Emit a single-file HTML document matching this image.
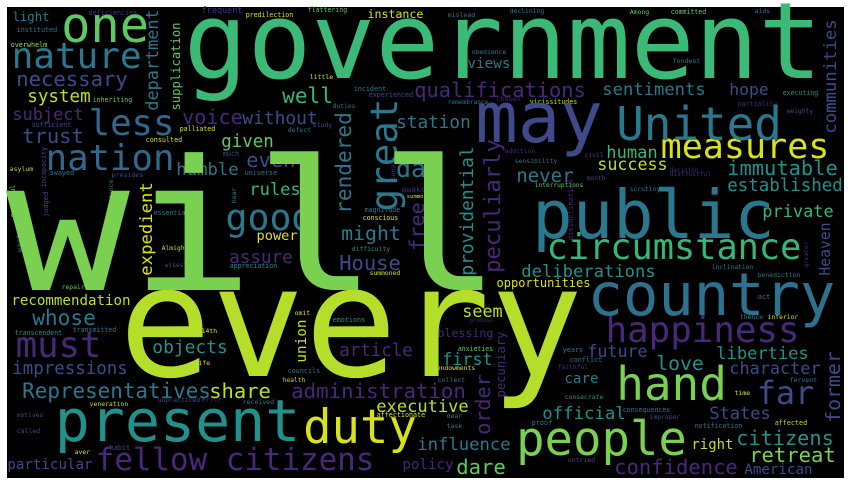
<!DOCTYPE html>
<html>
<head>
<meta charset="utf-8">
<style>
html,body{margin:0;padding:0;background:#fff;}
svg{display:block;}
text{font-family:"DejaVu Sans Mono","Liberation Mono",monospace;}
</style>
</head>
<body>
<svg id="cloud" width="851" height="485" viewBox="0 0 851 485" xmlns="http://www.w3.org/2000/svg">
<rect x="7" y="7" width="837" height="471" fill="#000"/>
</svg>
<script>
// Word cloud data: words, colors, orientation (h = horizontal, v = vertical)
const words = ["will","every","government","public","country","present","may","United","people","duty","hand","far","measures","circumstance","happiness","fellow citizens","nation","less","nature","one","great","good","necessary","Representatives","administration","must","qualifications","sentiments","hope","immutable","established","private","citizens","retreat","confidence","American","influence","official","States","character","liberties","love","future","first","blessing","seem","deliberations","opportunities","article","objects","whose","recommendation","impressions","share","executive","particular","House","assure","day","station","event","without","voice","well","given","humble","rules","might","power","subject","trust","system","light","instance","views","human","success","never","dare","right","care","policy","communities","department","supplication","expedient","rendered","providential","peculiarly","pecuniary","order","former","Heaven","union","free"];
const colors = ["#7ad151","#b5de2b","#3aba76","#2a788e","#2c728e","#21918c","#3e4a89","#2a788e","#7ad151","#d8e219","#7ad151","#3e4a89","#d8e219","#35b779","#482878","#482878","#31688e","#31688e","#2a788e","#5ec962","#2a788e","#2a788e","#3e4a89","#2a788e","#482878","#482878","#482878","#2a788e","#3e4a89","#21918c","#21918c","#35b779","#21918c","#7ad151","#482878","#3e4a89","#2a788e","#21918c","#3e4a89","#3e4a89","#21918c","#21918c","#3e4a89","#21918c","#482878","#bddf26","#21918c","#d8e219","#482878","#21918c","#2a788e","#bddf26","#3e4a89","#bddf26","#bddf26","#3e4a89","#3e4a89","#482878","#2a788e","#2a788e","#3e4a89","#3e4a89","#482878","#35b779","#5ec962","#2a788e","#35b779","#2a788e","#d8e219","#482878","#3e4a89","#bddf26","#2a788e","#d8e219","#2a788e","#35b779","#bddf26","#2a788e","#5ec962","#bddf26","#2a788e","#482878","#3e4a89","#2a788e","#5ec962","#d8e219","#2a788e","#21918c","#482878","#482878","#482878","#3e4a89","#3e4a89","#bddf26","#482878"];
const orient = ["h","h","h","h","h","h","h","h","h","h","h","h","h","h","h","h","h","h","h","h","v","h","h","h","h","h","h","h","h","h","h","h","h","h","h","h","h","h","h","h","h","h","h","h","h","h","h","h","h","h","h","h","h","h","h","h","h","h","h","h","h","h","h","h","h","h","h","h","h","h","h","h","h","h","h","h","h","h","h","h","h","h","v","v","v","v","v","v","v","v","v","v","v","v","v"];
// glyph height scale per main word (1 = default)
const heightScale = [0.88,1,1,1,1,1,1,1,1,1,1,1,1,1,1,1,1,1,1,1,1,1,1,1,1,1,1,1,1,1,1,1,1,1,1,1,1,1,1,1,1,1,1,1,1,1,1,1,1,1,1,1,1,1,1,1,1,1,1,1,1,1,1,1,1,1,1,1,1,1,1,1,1,1,1,1,1,1,1,1,1,1,1,1,1,1,1,1,1,1,1,1,1,1,1];
// layout boxes of visible ink (horizontal: x0,x1,baseline ; vertical: baselineX,yTop,yBottom)
const layout = [[14,494,290],[125,577,376],[188,818,78],[535,772,238],[590,833,315],[57,298,441],[478,600,142],[618,780,140],[518,685,455],[305,415,443],[618,725,400],[758,813,404],[662,828,158],[548,800,259],[607,798,342],[97,373,470],[47,173,170],[90,173,135],[13,140,68],[63,147,42],[397,100,210],[227,312,230],[17,127,86],[23,210,398],[292,465,398],[17,100,357],[415,585,97],[603,705,95],[730,768,95],[728,837,175],[728,842,191],[763,833,217],[737,833,445],[750,835,462],[615,737,474],[745,812,474],[418,510,450],[543,625,419],[710,770,419],[730,820,374],[717,808,359],[657,703,370],[588,647,357],[443,492,365],[438,493,337],[463,502,317],[522,655,277],[497,590,287],[340,412,356],[153,227,353],[33,95,325],[12,130,305],[13,127,374],[210,270,398],[377,468,412],[8,92,469],[340,400,270],[230,292,263],[397,440,177],[397,470,128],[247,307,167],[243,317,124],[183,242,124],[283,332,103],[222,273,147],[177,238,175],[250,300,195],[342,400,240],[257,297,240],[13,83,120],[23,83,143],[28,90,102],[13,49,21],[368,423,18],[468,510,68],[607,657,158],[598,667,170],[517,573,182],[457,505,474],[692,733,449],[565,598,383],[403,453,469],[836,20,133],[158,10,110],[180,23,110],[152,183,275],[351,113,213],[473,147,275],[500,140,272],[505,332,397],[490,375,434],[840,352,422],[830,223,275],[306,320,362],[424,203,250]];
// small words
const smallWords = ["deficiencies","instituted","overwhelm","palliated","consulted","inheriting","sufficient","asylum","swayed","presides","essential","universe","much","study","defect","duties","incident","experienced","little","frequent","predilection","flattering","magnitude","conscious","awaken","summons","mislead","declining","Among","committed","aids","obedience","fondest","executing","remembrance","chosen","vicissitudes","partiality","weighty","addition","sensibility","civil","decision","distrustful","month","interruptions","scrutiny","inclination","benediction","act","thence","inferior","gradual","anxieties","endowments","collect","years","conflict","faithful","consecrate","time","fervent","consequences","dear","task","improper","proof","notification","affected","untried","Almighty","difficulty","wisest","appreciation","summoned","repaired","transcendent","transmitted","omit","emotions","14th","life","councils","health","veneration","unpracticed","error","received","affectionate","motives","called","habit","aver"];
const smallColors = ["#46327e","#2a788e","#a0da39","#d8e219","#d8e219","#5ec962","#3e4a89","#bddf26","#2a788e","#3e4a89","#2a788e","#2a788e","#3e4a89","#3e4a89","#2a788e","#2a788e","#2a788e","#3e4a89","#d8e219","#46327e","#d8e219","#5ec962","#2a788e","#d8e219","#482878","#d8e219","#2a788e","#2a788e","#5ec962","#5ec962","#2a788e","#2a788e","#2a788e","#21918c","#2a788e","#482878","#bddf26","#482878","#3e4a89","#482878","#2a788e","#3e4a89","#482878","#482878","#3e4a89","#5ec962","#2a788e","#2a788e","#2a788e","#2a788e","#2a788e","#d8e219","#482878","#5ec962","#d8e219","#2a788e","#2a788e","#2a788e","#482878","#21918c","#d8e219","#2a788e","#2a788e","#2a788e","#2a788e","#3e4a89","#2a788e","#2a788e","#bddf26","#3e4a89","#bddf26","#21918c","#3e4a89","#21918c","#d8e219","#5ec962","#21918c","#2a788e","#d8e219","#21918c","#d8e219","#d8e219","#2a788e","#bddf26","#bddf26","#3e4a89","#482878","#2a788e","#d8e219","#3e4a89","#3e4a89","#3e4a89","#d8e219"];
const smallLayout = [[89,137,15],[17,57,32],[11,47,47],[180,215,131],[146,182,142],[93,132,102],[32,71,127],[10,33,171],[50,74,175],[112,143,177],[154,189,215],[245,277,175],[223,239,156],[313,332,127],[288,311,132],[333,355,108],[354,386,91],[369,413,97],[310,333,79],[202,242,13],[246,293,17],[308,347,12],[365,400,212],[363,398,220],[402,430,192],[407,430,198],[448,475,17],[510,544,13],[630,649,14],[671,706,14],[755,770,13],[472,506,54],[673,700,63],[783,818,95],[448,488,104],[497,520,101],[530,577,104],[738,777,106],[787,813,113],[505,535,153],[515,557,163],[585,603,157],[670,698,172],[670,711,176],[587,605,180],[535,583,187],[630,660,191],[712,753,269],[758,800,277],[758,770,299],[740,763,319],[768,798,319],[470,493,322],[458,493,351],[437,475,370],[438,465,382],[563,583,352],[570,602,362],[558,588,369],[565,603,399],[735,750,395],[790,817,382],[623,670,412],[447,462,418],[447,462,428],[650,680,419],[532,552,425],[695,742,428],[775,807,425],[568,595,462],[162,192,250],[352,390,251],[165,187,267],[230,277,268],[370,400,275],[62,92,289],[15,62,335],[73,116,332],[295,310,315],[333,365,322],[202,217,333],[195,210,365],[288,320,373],[283,305,382],[90,128,406],[158,200,402],[202,222,402],[243,274,404],[377,425,417],[17,43,417],[17,40,433],[110,130,450],[75,90,454]];
const smallVertical = ["incapacity","judged","grateful","despondence","hear","Senate","disinclination","greater","filled","waste"];
const smallVColors = ["#3e4a89","#3e4a89","#5ec962","#2a788e","#2a788e","#482878","#482878","#482878","#482878","#2a788e"];
const smallVLayout = [[46,147,187],[48,192,217],[15,185,217],[113,180,222],[236,188,203],[395,157,180],[573,180,240],[808,242,267],[86,249,272],[22,230,252]];

const svg = document.getElementById('cloud');
const NS = 'http://www.w3.org/2000/svg';
function slug(s){return s.toLowerCase().replace(/[^a-z0-9]+/g,'-');}
function addWord(w, col, box, vert, hs){
  const t = document.createElementNS(NS,'text');
  
  
  let ink, x, y;
  if(vert){ ink = box[2]-box[1]; } else { ink = box[1]-box[0]; }
  const fs0 = ink/(0.602*w.length - 0.08);
  const bear = 0.04*fs0;
  const len = ink + 2*bear;
  const fs = fs0*(hs||1);
  if(vert){ x = box[0]; y = box[2] + bear; t.setAttribute('transform','rotate(-90 '+x+' '+y+')'); }
  else { x = box[0] - bear; y = box[2]; }
  t.setAttribute('x', x.toFixed(1)); t.setAttribute('y', y.toFixed(1));
  t.setAttribute('font-size', fs.toFixed(1));
  t.setAttribute('fill', col);
  t.setAttribute('textLength', len.toFixed(1));
  t.setAttribute('lengthAdjust','spacingAndGlyphs');
  t.textContent = w;
  svg.appendChild(t);
}
for(let i=0;i<smallWords.length;i++) addWord(smallWords[i], smallColors[i], smallLayout[i], false, 1);
for(let i=0;i<smallVertical.length;i++) addWord(smallVertical[i], smallVColors[i], smallVLayout[i], true, 1);
for(let i=words.length-1;i>=0;i--) addWord(words[i], colors[i], layout[i], orient[i]==='v', heightScale[i]);
</script>
</body>
</html>
